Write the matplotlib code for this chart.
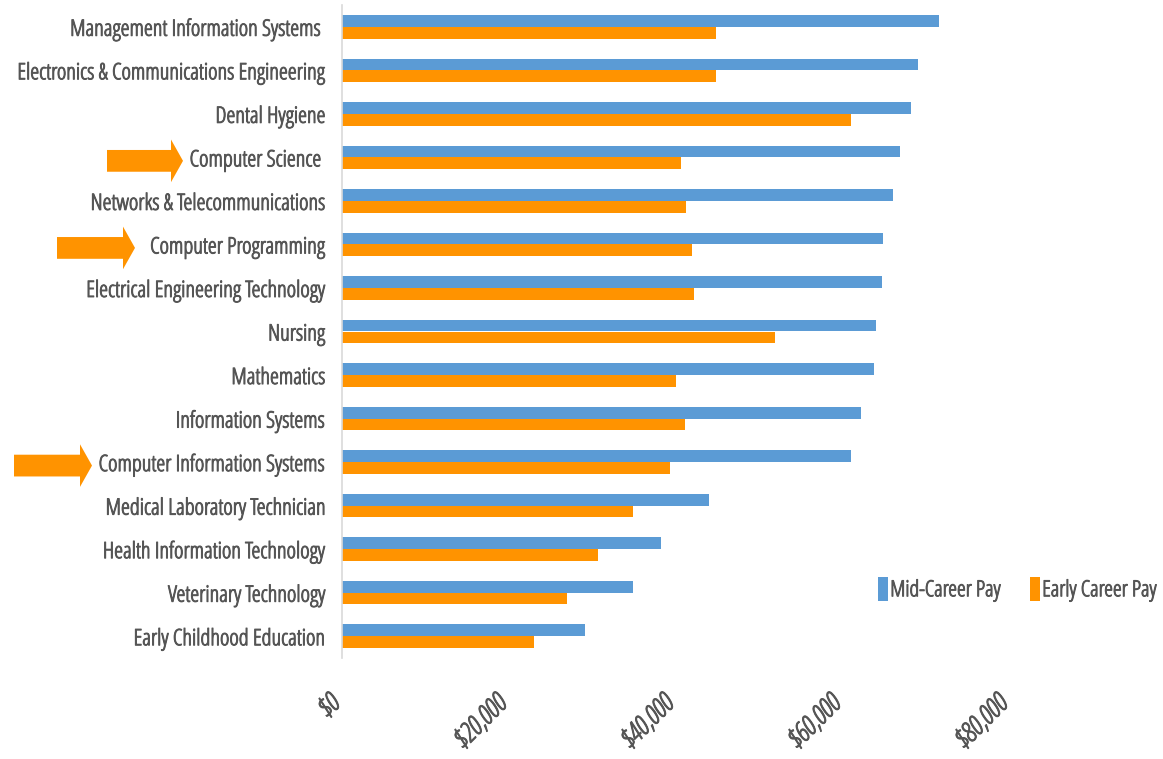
import matplotlib
matplotlib.use("Agg")
import matplotlib.pyplot as plt
import matplotlib.patches as mpatches
import matplotlib.transforms as mtransforms
import matplotlib.patheffects as pe
from matplotlib import font_manager as fm
import numpy as np

categories = [
    "Management Information Systems ",
    "Electronics & Communications Engineering",
    "Dental Hygiene",
    "Computer Science ",
    "Networks & Telecommunications",
    "Computer Programming",
    "Electrical Engineering Technology",
    "Nursing",
    "Mathematics",
    "Information Systems",
    "Computer Information Systems",
    "Medical Laboratory Technician",
    "Health Information Technology",
    "Veterinary Technology",
    "Early Childhood Education",
]
mid_career = [71500, 69000, 68200, 66800, 66000, 64800, 64700, 64000,
              63700, 62100, 60900, 44000, 38200, 34900, 29100]
early_career = [44800, 44800, 60900, 40600, 41200, 41900, 42200, 51900,
                40000, 41100, 39300, 34900, 30700, 27000, 23000]
highlighted = ["Computer Science ", "Computer Programming", "Computer Information Systems"]
xticks = [0, 20000, 40000, 60000, 80000]
xtick_labels = ["$0", "$20,000", "$40,000", "$60,000", "$80,000"]
series_names = ["Mid-Career Pay", "Early Career Pay"]

BLUE = "#5B9BD5"
ORANGE = "#FF9300"
TEXT = "#555555"

FP = fm.FontProperties(family=["Open Sans", "DejaVu Sans"], stretch="condensed", weight=300, size=16.3)
FPL = fm.FontProperties(family=["Open Sans", "DejaVu Sans"], stretch="condensed", weight=300, size=16)
FPI = fm.FontProperties(family=["Open Sans", "DejaVu Sans"], stretch="condensed", weight=300,
                        style="italic", size=19.5)
BOLDEN = [pe.withStroke(linewidth=0.7, foreground=TEXT)]

W, H = 1163, 759
fig = plt.figure(figsize=(W / 100, H / 100), dpi=100)
ax = fig.add_axes([342 / W, 1 - 658 / H, (1010 - 342) / W, (658 - 5) / H])

y = np.arange(len(categories))
h = 0.27
ax.barh(y - h / 2, mid_career, height=h, color=BLUE, label=series_names[0])
ax.barh(y + h / 2, early_career, height=h, color=ORANGE, label=series_names[1])

ax.set_ylim(len(categories) - 0.5, -0.5)
ax.set_xlim(0, 80000)
ax.set_yticks(y)
ax.set_yticklabels(categories, color=TEXT, fontproperties=FP)
ax.set_xticks(xticks)
ax.set_xticklabels(xtick_labels, color=TEXT, fontproperties=FPI,
                   rotation=45, ha="right", va="top")
ax.tick_params(axis="y", length=0, pad=12)
ax.tick_params(axis="x", length=0, pad=23)
for lab in ax.get_yticklabels():
    lab.set_path_effects(BOLDEN)
for lab in ax.get_xticklabels():
    lab.set_path_effects(BOLDEN)
    lab.set_transform(lab.get_transform() +
                      mtransforms.ScaledTranslation(4 / 100, 0, fig.dpi_scale_trans))
for s in ["top", "right", "bottom"]:
    ax.spines[s].set_visible(False)
ax.spines["left"].set_color("#D9D9D9")
ax.spines["left"].set_linewidth(1.2)

# orange highlight arrows (x in figure fraction, y in data)
trans = mtransforms.blended_transform_factory(fig.transFigure, ax.transData)
arrow_x = {"Computer Science ": (107, 183),
           "Computer Programming": (57, 135),
           "Computer Information Systems": (14, 92)}
for name in highlighted:
    yi = categories.index(name) + 0.08
    x0, x1 = arrow_x[name]
    arr = mpatches.FancyArrow(x0 / W, yi, (x1 - x0) / W, 0, width=0.5,
                              head_width=0.98, head_length=12 / W,
                              length_includes_head=True, color=ORANGE,
                              transform=trans, clip_on=False, lw=0)
    fig.add_artist(arr)

leg = fig.legend(loc="center left", bbox_to_anchor=(878 / W, 1 - 589 / H),
                 ncol=2, frameon=False, handlelength=0.45, handleheight=1.3,
                 handletextpad=0.1, columnspacing=1.3, borderpad=0,
                 borderaxespad=0, prop=FPL)
for t in leg.get_texts():
    t.set_color(TEXT)
    t.set_path_effects(BOLDEN)

fig.savefig("out.png", dpi=100, facecolor="white")
